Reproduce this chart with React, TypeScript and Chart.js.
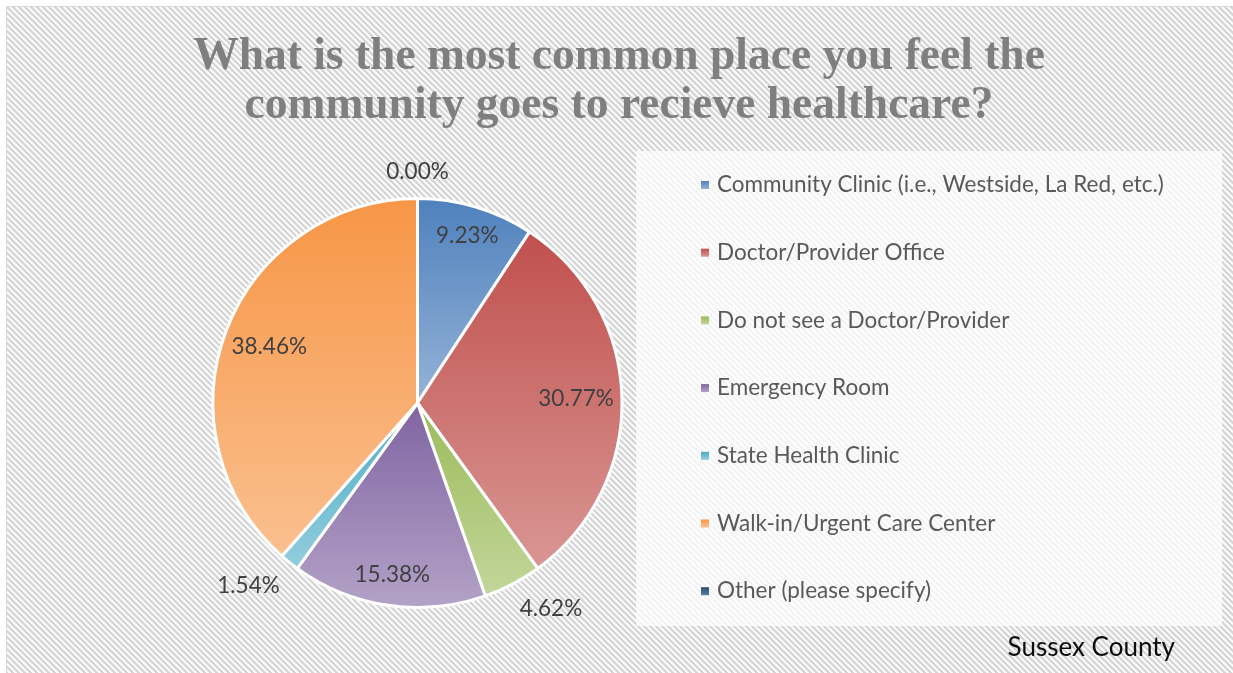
import { useEffect, useRef } from 'react';
import { Chart, registerables, layouts } from 'chart.js';

Chart.register(...registerables);

// ---- data ----
const categories = [
  'Community Clinic (i.e., Westside, La Red, etc.)',
  'Doctor/Provider Office',
  'Do not see a Doctor/Provider',
  'Emergency Room',
  'State Health Clinic',
  'Walk-in/Urgent Care Center',
  'Other (please specify)',
];
const percentages = [9.23, 30.77, 4.62, 15.38, 1.54, 38.46, 0.0];
const topColors = ['#4F81BD', '#C0504D', '#9BBB59', '#8064A2', '#4BACC6', '#F79646', '#2C4D75'];
const bottomColors = ['#95B3D7', '#D99694', '#C3D69B', '#B3A2C7', '#93CDDD', '#FAC090', '#5A7DAA'];
const titleLines = ['What is the most common place you feel the', 'community goes to recieve healthcare?'];
const footnote = 'Sussex County';

const SANS = "Lato, 'Noto Sans', sans-serif";

function makeHatch(): CanvasPattern | string {
  const c = document.createElement('canvas');
  const p = 6;
  c.width = p;
  c.height = p;
  const x = c.getContext('2d');
  if (!x) return '#eeeeee';
  x.fillStyle = '#ffffff';
  x.fillRect(0, 0, p, p);
  x.strokeStyle = '#D6D6D6';
  x.lineWidth = 2.4;
  for (const off of [-p, 0, p]) {
    x.beginPath();
    x.moveTo(-1, off - 1);
    x.lineTo(p + 1, off + p + 1);
    x.stroke();
  }
  const pat = x.createPattern(c, 'repeat');
  return pat || '#eeeeee';
}

const background = {
  id: 'background',
  beforeDraw(chart: any, _a: any, o: any) {
    const ctx = chart.ctx;
    ctx.save();
    ctx.fillStyle = '#ffffff';
    ctx.fillRect(0, 0, chart.width, chart.height);
    ctx.fillStyle = o.pattern;
    ctx.fillRect(7, 7, chart.width - 7, chart.height - 7);
    ctx.strokeStyle = '#D9D9D9';
    ctx.lineWidth = 1;
    ctx.beginPath();
    ctx.moveTo(6.5, chart.height);
    ctx.lineTo(6.5, 6.5);
    ctx.lineTo(chart.width, 6.5);
    ctx.stroke();
    ctx.restore();
  },
};

function arcBounds(arc: any) {
  const { x, y, startAngle, endAngle, outerRadius } = arc;
  let minY = y;
  let maxY = y;
  const n = 120;
  for (let i = 0; i <= n; i++) {
    const a = startAngle + ((endAngle - startAngle) * i) / n;
    const py = y + Math.sin(a) * outerRadius;
    minY = Math.min(minY, py);
    maxY = Math.max(maxY, py);
  }
  return { minY, maxY };
}

const gradientFill = {
  id: 'gradientFill',
  beforeDatasetsDraw(chart: any) {
    const ctx = chart.ctx;
    const meta = chart.getDatasetMeta(0);
    meta.data.forEach((arc: any, i: number) => {
      const { minY, maxY } = arcBounds(arc);
      if (maxY - minY < 1) return;
      const g = ctx.createLinearGradient(0, minY, 0, maxY);
      g.addColorStop(0, topColors[i]);
      g.addColorStop(1, bottomColors[i]);
      const opts = arc.options;
      if (Object.isFrozen(opts)) arc.options = { ...opts, backgroundColor: g };
      else opts.backgroundColor = g;
    });
  },
};

const sliceLabels = {
  id: 'sliceLabels',
  afterDatasetsDraw(chart: any, _a: any, o: any) {
    const ctx = chart.ctx;
    const meta = chart.getDatasetMeta(0);
    const values: number[] = chart.data.datasets[0].data;
    const total = values.reduce((s, v) => s + v, 0);
    ctx.save();
    ctx.font = `${o.size}px ${SANS}`;
    ctx.fillStyle = o.color;
    meta.data.forEach((arc: any, i: number) => {
      const { x, y, startAngle, endAngle, outerRadius } = arc;
      const edge = outerRadius + 1.5;
      const mid = (startAngle + endAngle) / 2;
      const dx = Math.cos(mid);
      const dy = Math.sin(mid);
      const text = values[i].toFixed(2) + '%';
      const share = values[i] / total;
      ctx.textBaseline = 'middle';
      if (share >= o.outsideBelow) {
        const f = endAngle - startAngle > Math.PI / 2 ? o.insideWide : o.insideNarrow;
        ctx.textAlign = 'center';
        ctx.fillText(text, x + dx * edge * f, y + dy * edge * f);
      } else {
        const d = edge + o.gap;
        const px = x + dx * d;
        const py = y + dy * d;
        ctx.textAlign = Math.abs(dx) < 0.1 ? 'center' : dx > 0 ? 'left' : 'right';
        const cy = Math.abs(dy) < 0.1 ? py : dy > 0 ? py + o.halfHeight : py - o.halfHeight;
        ctx.fillText(text, px, cy);
      }
    });
    ctx.restore();
  },
};

function drawLegend(chart: any, o: any) {
  const ctx = chart.ctx;
  ctx.save();
  ctx.fillStyle = o.boxFill;
  ctx.fillRect(o.boxX, o.boxY, o.boxW, o.boxH);
  ctx.font = `${o.fontSize}px ${SANS}`;
  ctx.textBaseline = 'middle';
  ctx.textAlign = 'left';
  (chart.data.labels as string[]).forEach((label, i) => {
    const cy = o.firstY + i * o.step;
    const g = ctx.createLinearGradient(0, cy - o.marker / 2, 0, cy + o.marker / 2);
    g.addColorStop(0, topColors[i]);
    g.addColorStop(1, bottomColors[i]);
    ctx.fillStyle = g;
    ctx.fillRect(o.markerX, cy - o.marker / 2, o.marker, o.marker);
    ctx.fillStyle = o.color;
    ctx.fillText(label, o.textX, cy);
  });
  ctx.font = `${o.noteSize}px ${SANS}`;
  ctx.fillStyle = '#0D0D0D';
  ctx.textAlign = 'right';
  ctx.fillText(footnote, o.noteX, o.noteY);
  ctx.restore();
}

const sideLegend = {
  id: 'sideLegend',
  start(chart: any, _a: any, opts: any) {
    const box: any = {
      position: 'right',
      weight: 10,
      fullSize: false,
      options: {},
      opts,
      left: 0,
      top: 0,
      right: 0,
      bottom: 0,
      width: 0,
      height: 0,
      isHorizontal() {
        return false;
      },
      update(maxWidth: number, maxHeight: number) {
        this.width = Math.min(maxWidth, this.opts.width);
        this.height = maxHeight;
      },
      draw() {
        drawLegend(chart, this.opts);
      },
    };
    layouts.addBox(chart, box);
    chart.$sideLegend = box;
  },
  beforeUpdate(chart: any, _a: any, opts: any) {
    if (chart.$sideLegend) chart.$sideLegend.opts = opts;
  },
  stop(chart: any) {
    if (chart.$sideLegend) layouts.removeBox(chart, chart.$sideLegend);
  },
};

export default function App() {
  const ref = useRef<HTMLCanvasElement | null>(null);

  useEffect(() => {
    document.body.style.margin = '0';
    const canvas = ref.current;
    if (!canvas) return;
    const pattern = makeHatch();
    const chart = new Chart(canvas, {
      type: 'pie',
      data: {
        labels: categories,
        datasets: [
          {
            data: percentages,
            backgroundColor: topColors,
            borderColor: '#ffffff',
            borderWidth: 3,
          },
        ],
      },
      options: {
        responsive: false,
        maintainAspectRatio: false,
        animation: false,
        events: [],
        layout: { padding: { left: 8, right: 3, top: 8, bottom: 64 } },
        plugins: {
          legend: { display: false },
          tooltip: { enabled: false },
          title: {
            display: true,
            text: titleLines,
            color: '#7F7F7F',
            font: { family: "'Liberation Serif', serif", size: 45.5, weight: 'bold', lineHeight: 49 / 45.5 },
            padding: { top: 24.5, bottom: 66.5 },
          },
          background: { pattern },
          sliceLabels: {
            size: 22.5,
            color: '#404040',
            outsideBelow: 0.05,
            insideWide: 0.77,
            insideNarrow: 0.845,
            gap: 14,
            halfHeight: 11,
          },
          sideLegend: {
            width: 403,
            boxX: 636,
            boxY: 151,
            boxW: 586,
            boxH: 475,
            boxFill: 'rgba(255,255,255,0.72)',
            fontSize: 22.5,
            color: '#595959',
            markerX: 701,
            marker: 8,
            textX: 717,
            firstY: 185,
            step: 67.7,
            noteSize: 26,
            noteX: 1175,
            noteY: 648,
          },
        } as any,
      },
      plugins: [background, gradientFill, sliceLabels, sideLegend],
    });
    return () => chart.destroy();
  }, []);

  return <canvas ref={ref} width={1233} height={673} style={{ display: 'block' }} />;
}
